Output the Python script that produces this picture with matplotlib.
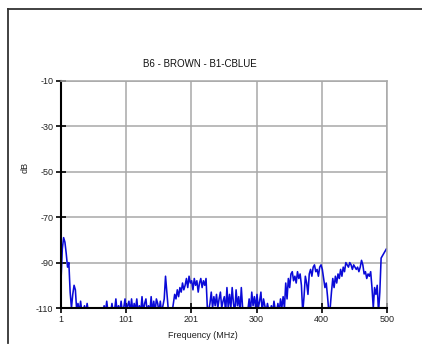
import numpy as np
import matplotlib
matplotlib.use("Agg")
import matplotlib.pyplot as plt
from matplotlib.lines import Line2D

plt.rcParams['font.family'] = ['Liberation Sans', 'DejaVu Sans']

title = "B6 - BROWN - B1-CBLUE"
x_label = "Frequency (MHz)"
y_label = "dB"
x_tick_labels = ["1", "101", "201", "300", "400", "500"]
y_ticks = [-110, -90, -70, -50, -30, -10]

freq_start = 1
freq_step = 2
db_values = [
    -98, -84, -79, -81, -86, -92, -90, -103, -110, -104,
    -100, -102, -111, -108, -112, -107, -112, -111, -109, -112,
    -108, -112, -111, -112, -112, -113, -112, -112, -112, -112,
    -112, -112, -112, -109, -112, -107, -112, -110, -112, -108,
    -112, -111, -106, -112, -109, -112, -107, -112, -110, -106,
    -112, -109, -107, -112, -106, -112, -108, -111, -106, -112,
    -109, -112, -105, -112, -108, -106, -112, -109, -112, -105,
    -112, -107, -112, -106, -108, -112, -107, -112, -109, -106,
    -96, -103, -110, -112, -110, -112, -108, -104, -106, -102,
    -105, -101, -103, -99, -102, -100, -97, -101, -96, -99,
    -98, -102, -97, -100, -98, -103, -99, -97, -101, -98,
    -100, -97, -110, -111, -108, -103, -110, -105, -109, -104,
    -110, -106, -103, -110, -107, -105, -112, -101, -110, -104,
    -110, -101, -108, -112, -102, -109, -105, -112, -101, -110,
    -112, -110, -112, -111, -106, -112, -103, -109, -105, -110,
    -104, -110, -107, -103, -112, -106, -109, -112, -108, -111,
    -112, -109, -112, -107, -111, -112, -108, -112, -106, -110,
    -105, -110, -99, -106, -97, -101, -95, -94, -98, -96,
    -99, -94, -97, -95, -100, -112, -105, -96, -99, -104,
    -95, -93, -96, -92, -91, -94, -93, -96, -92, -91,
    -93, -97, -101, -99, -105, -112, -110, -103, -97, -101,
    -96, -99, -95, -97, -93, -96, -92, -94, -90, -91,
    -92, -90, -91, -93, -91, -92, -93, -92, -94, -92,
    -89, -91, -95, -94, -97, -95, -96, -94, -101, -110,
    -101, -104, -100, -112, -103, -88, -87, -86, -85, -84,
]
freqs = freq_start + freq_step * np.arange(len(db_values))

fig = plt.figure(figsize=(4.22, 3.47), dpi=100)
ax = fig.add_axes([61/422, 1 - 308/347, (387-61)/422, (308-81)/347])

ax.plot(freqs, db_values, color='#0a0ad8', lw=1.15)

ax.set_xlim(1, 500)
ax.set_ylim(-110, -10)
ax.set_xticks(np.linspace(1, 500, 6))
ax.set_xticklabels(x_tick_labels)
ax.set_yticks(y_ticks)
ax.set_yticklabels([str(v) for v in y_ticks])
ax.grid(True, color='#a8a8a8', lw=1.1)
ax.set_axisbelow(True)

for s in ['top', 'right']:
    ax.spines[s].set_color('#a8a8a8')
    ax.spines[s].set_linewidth(1.1)
for s in ['left', 'bottom']:
    ax.spines[s].set_color('black')
    ax.spines[s].set_linewidth(1.5)

ax.tick_params(direction='inout', length=7, width=1.2, labelsize=6.5, pad=2, colors='black')
ax.tick_params(axis='y', labelcolor='#222222')
ax.tick_params(axis='x', labelcolor='#222222', pad=1.5)

fig.text(200/422, 1 - 64/347, title, ha='center', va='center', fontsize=7, color='#111111')
fig.text(203/422, 1 - 336/347, x_label, ha='center', va='center', fontsize=6.5, color='#222222')
fig.text(25/422, 1 - 167/347, y_label, ha='center', va='center', rotation=90, fontsize=6.5, color='#222222')

fig.add_artist(Line2D([8/422, 8/422], [1 - 9/347, 1 - 343/347], transform=fig.transFigure, color='#333333', lw=1.3))
fig.add_artist(Line2D([8/422, 1.0], [1 - 9/347, 1 - 9/347], transform=fig.transFigure, color='#333333', lw=1.3))

fig.savefig('out.png', dpi=100)
